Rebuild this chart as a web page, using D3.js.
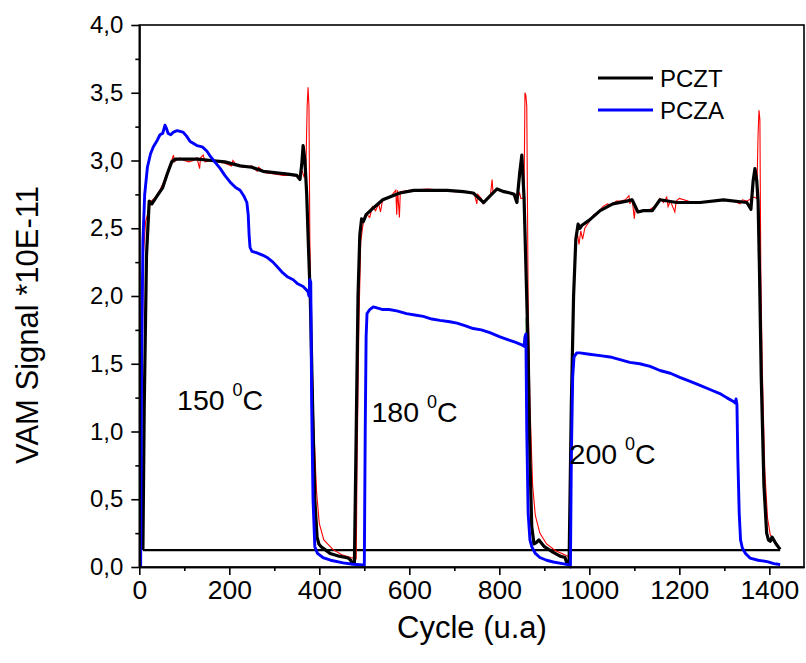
<!DOCTYPE html>
<html><head><meta charset="utf-8">
<script src="https://cdn.jsdelivr.net/npm/d3@7"></script>
<style>html,body{margin:0;padding:0;background:#fff}svg{display:block}</style>
</head><body>
<svg id="chart" width="806" height="663"></svg>
<script>
// ---- data ----
const yTicks = [0, 0.5, 1, 1.5, 2, 2.5, 3, 3.5, 4];
const yMinorTicks = [0.25, 0.75, 1.25, 1.75, 2.25, 2.75, 3.25, 3.75];
const xTicks = [0, 200, 400, 600, 800, 1000, 1200, 1400];
const xMinorTicks = [100, 300, 500, 700, 900, 1100, 1300];
const seriesNames = ["PCZT", "PCZA"];
const tempLabels = [
  {cycle: 84, value: 1.16, text: "150", unit: "C"},
  {cycle: 516, value: 1.07, text: "180", unit: "C"},
  {cycle: 956, value: 0.76, text: "200", unit: "C"}
];

// PCZT smoothed (black)
const pczt = [[8,0.125],[11,1.2],[16,2.3],[22,2.7],[28,2.68],[40,2.74],[52,2.8],[62,2.9],[72,2.99],[80,3.01],[100,3.01],[130,3.01],[160,3.0],[190,2.99],[224,2.96],[250,2.95],[275,2.92],[300,2.91],[330,2.9],[350,2.89],[357,2.86],[361,2.97],[364,3.11],[368,3.0],[372,2.75],[376,2.35],[380,1.98],[385,1.2],[390,0.5],[395,0.22],[399,0.17],[404,0.15],[412,0.13],[424,0.10],[444,0.08],[464,0.066],[470,0.05],[472,0.03],[478,0.03],[482,1.0],[486,2.0],[490,2.45],[494,2.57],[498,2.55],[504,2.6],[520,2.65],[541,2.71],[579,2.76],[610,2.78],[639,2.78],[684,2.78],[720,2.77],[742,2.76],[755,2.72],[765,2.69],[780,2.74],[795,2.79],[810,2.77],[824,2.76],[833,2.75],[839,2.69],[845,2.9],[850,3.04],[855,2.72],[860,2.1],[864,1.6],[868,0.8],[872,0.3],[877,0.17],[882,0.18],[888,0.2],[900,0.15],[919,0.11],[935,0.08],[946,0.07],[950,0.03],[955,0.03],[960,1.2],[965,2.0],[970,2.42],[975,2.53],[979,2.5],[983,2.52],[1000,2.56],[1024,2.63],[1052,2.68],[1083,2.70],[1095,2.71],[1108,2.62],[1120,2.63],[1140,2.63],[1157,2.71],[1194,2.69],[1246,2.69],[1298,2.71],[1350,2.69],[1359,2.64],[1364,2.85],[1368,2.94],[1372,2.85],[1375,2.7],[1378,2.2],[1382,1.4],[1388,0.6],[1394,0.25],[1398,0.2],[1402,0.19],[1406,0.22],[1415,0.17],[1424,0.13]];

// PCZT raw (red)
const pcztRaw = [[2,0.0],[5,1.1],[9,2.3],[14,2.55],[20,2.62],[26,2.7],[34,2.72],[44,2.77],[54,2.84],[64,2.93],[72,3.0],[76,3.04],[78,2.99],[90,3.02],[100,3.0],[110,2.99],[120,3.0],[128,3.02],[134,2.94],[136,3.02],[142,3.04],[146,2.99],[160,3.0],[175,2.99],[190,2.98],[205,2.96],[208,3.0],[215,2.97],[230,2.95],[250,2.96],[262,2.92],[265,2.95],[280,2.91],[300,2.9],[320,2.89],[340,2.89],[356,2.88],[362,2.92],[366,2.88],[370,2.9],[373,3.4],[375,3.54],[377,3.4],[379,2.4],[382,1.8],[388,1.0],[394,0.55],[400,0.32],[410,0.2],[430,0.13],[450,0.09],[470,0.07],[482,0.06],[484,0.8],[488,1.8],[492,2.4],[496,2.5],[500,2.58],[506,2.6],[512,2.58],[518,2.66],[525,2.63],[532,2.68],[536,2.62],[540,2.7],[560,2.74],[570,2.78],[572,2.6],[574,2.78],[578,2.58],[580,2.77],[600,2.78],[640,2.79],[680,2.78],[700,2.77],[720,2.77],[735,2.76],[745,2.75],[750,2.68],[752,2.75],[760,2.72],[764,2.68],[772,2.72],[780,2.74],[784,2.86],[786,2.76],[795,2.79],[810,2.77],[825,2.76],[835,2.74],[840,2.72],[845,2.76],[848,2.72],[852,2.72],[855,2.76],[857,3.5],[859,3.48],[861,3.4],[864,2.0],[868,1.2],[874,0.6],[880,0.38],[890,0.25],[905,0.17],[925,0.12],[945,0.09],[958,0.07],[961,1.0],[965,2.0],[969,2.4],[974,2.45],[977,2.38],[981,2.48],[985,2.42],[990,2.5],[1000,2.55],[1010,2.6],[1020,2.62],[1030,2.66],[1040,2.68],[1050,2.67],[1060,2.7],[1070,2.7],[1080,2.71],[1088,2.74],[1090,2.68],[1095,2.72],[1100,2.57],[1102,2.65],[1110,2.62],[1130,2.63],[1145,2.66],[1157,2.72],[1165,2.69],[1172,2.73],[1175,2.66],[1180,2.70],[1190,2.62],[1193,2.7],[1200,2.72],[1230,2.69],[1250,2.69],[1270,2.7],[1300,2.71],[1320,2.7],[1335,2.68],[1340,2.71],[1350,2.7],[1360,2.72],[1366,2.73],[1372,2.72],[1375,3.2],[1377,3.37],[1379,3.3],[1381,2.2],[1384,1.5],[1390,0.7],[1396,0.36],[1402,0.24],[1410,0.19],[1420,0.15]];

// PCZA (blue)
const pcza = [[3,0.0],[5,1.5],[8,2.4],[12,2.75],[18,2.95],[25,3.05],[31,3.1],[40,3.15],[46,3.19],[52,3.2],[57,3.26],[60,3.24],[64,3.2],[70,3.19],[76,3.21],[84,3.22],[97,3.21],[105,3.18],[113,3.14],[128,3.11],[140,3.1],[150,3.07],[158,3.03],[170,2.98],[180,2.94],[190,2.89],[202,2.84],[214,2.8],[224,2.78],[232,2.74],[239,2.69],[242,2.6],[244,2.45],[246,2.36],[250,2.33],[260,2.32],[275,2.3],[286,2.28],[297,2.25],[308,2.21],[319,2.17],[330,2.14],[342,2.12],[352,2.09],[364,2.07],[370,2.05],[375,2.03],[377,2.0],[379,2.12],[381,2.1],[383,1.2],[386,0.5],[390,0.15],[396,0.1],[408,0.07],[425,0.05],[453,0.03],[475,0.02],[497,0.015],[500,0.01],[502,1.0],[504,1.7],[506,1.87],[512,1.9],[520,1.92],[530,1.91],[541,1.9],[555,1.9],[572,1.89],[594,1.87],[612,1.86],[631,1.85],[650,1.83],[668,1.82],[690,1.81],[706,1.8],[725,1.78],[742,1.76],[760,1.75],[779,1.73],[800,1.7],[817,1.68],[835,1.66],[850,1.64],[855,1.63],[857,1.7],[859,1.72],[861,1.0],[864,0.4],[868,0.2],[872,0.15],[880,0.1],[890,0.07],[905,0.05],[920,0.037],[940,0.025],[957,0.015],[958,0.0],[960,0.8],[963,1.4],[966,1.55],[972,1.58],[979,1.58],[1000,1.57],[1024,1.56],[1046,1.55],[1068,1.53],[1090,1.51],[1112,1.5],[1135,1.48],[1157,1.45],[1180,1.43],[1201,1.4],[1224,1.37],[1246,1.34],[1268,1.31],[1290,1.28],[1305,1.25],[1321,1.22],[1324,1.21],[1326,1.24],[1328,1.2],[1330,0.8],[1333,0.4],[1336,0.2],[1340,0.14],[1347,0.1],[1357,0.066],[1375,0.05],[1395,0.04],[1410,0.025],[1420,0.02],[1424,0.018]];

// small green segment
const greenMark = [[860,1.73],[860,1.84]];
// closing baseline of the PCZT trace
const baseline = [[8,0.125],[1424,0.125]];

// ---- chart ----
const svg = d3.select("#chart");
const font = "'Liberation Sans', Arial, sans-serif";
const x = d3.scaleLinear().domain([0, 1477]).range([139.3, 804]);
const y = d3.scaleLinear().domain([0, 4]).range([567, 25]);
const fmt = d => d3.format(".1f")(d).replace(".", ",");

const line = d3.line().x(d => x(d[0])).y(d => y(d[1]));
const plot = svg.append("g");
plot.append("path").datum(baseline).attr("d", line).attr("fill","none").attr("stroke","#000").attr("stroke-width",2.2);
plot.append("path").datum(pcztRaw).attr("d", line).attr("fill","none").attr("stroke","#ff0000").attr("stroke-width",1.1);
plot.append("path").datum(greenMark).attr("d", line).attr("fill","none").attr("stroke","#008000").attr("stroke-width",1.5);
plot.append("path").datum(pczt).attr("d", line).attr("fill","none").attr("stroke","#000").attr("stroke-width",3.2).attr("stroke-linejoin","round");
plot.append("path").datum(pcza).attr("d", line).attr("fill","none").attr("stroke","#0000ff").attr("stroke-width",2.9).attr("stroke-linejoin","round");

// frame
svg.append("rect").attr("x", x(0)).attr("y", y(4)).attr("width", x(1477)-x(0)).attr("height", y(0)-y(4))
  .attr("fill","none").attr("stroke","#000").attr("stroke-width",1.6);

// axes
const yAxis = svg.append("g").attr("transform", `translate(${x(0)},0)`)
  .call(d3.axisLeft(y).tickValues(yTicks).tickFormat(fmt).tickSize(8).tickSizeOuter(0).tickPadding(8));
const yMinor = svg.append("g").attr("transform", `translate(${x(0)},0)`)
  .call(d3.axisLeft(y).tickValues(yMinorTicks).tickFormat("").tickSize(4).tickSizeOuter(0));
const xAxis = svg.append("g").attr("transform", `translate(0,${y(0)})`)
  .call(d3.axisBottom(x).tickValues(xTicks).tickFormat(d3.format("d")).tickSize(8).tickSizeOuter(0).tickPadding(5));
const xMinor = svg.append("g").attr("transform", `translate(0,${y(0)})`)
  .call(d3.axisBottom(x).tickValues(xMinorTicks).tickFormat("").tickSize(4).tickSizeOuter(0));
[yAxis, yMinor, xAxis, xMinor].forEach(g => {
  g.select(".domain").attr("stroke","#000").attr("stroke-width",1.6);
  g.selectAll(".tick line").attr("stroke","#000").attr("stroke-width",1.6);
  g.selectAll(".tick text").attr("fill","#000").style("font-family", font);
});
yAxis.selectAll(".tick text").style("font-size","24px");
xAxis.selectAll(".tick text").style("font-size","26.5px");

// axis titles
svg.append("text").attr("x", 472).attr("y", 638).attr("text-anchor","middle")
  .style("font-family", font).style("font-size","31px").text("Cycle (u.a)");
svg.append("text").attr("transform","translate(38,325) rotate(-90)").attr("text-anchor","middle")
  .style("font-family", font).style("font-size","31px").text("VAM Signal *10E-11");

// temperature labels
tempLabels.forEach(t => {
  const tx = svg.append("text").attr("x", x(t.cycle)).attr("y", y(t.value))
    .style("font-family", font).style("font-size","28.5px").attr("fill","#000");
  tx.append("tspan").text(t.text + " ");
  tx.append("tspan").attr("dy", -14).style("font-size","18px").text("0");
  tx.append("tspan").attr("dy", 14).text(t.unit);
});

// legend
const legend = svg.append("g");
const legendColors = ["#000", "#0000ff"];
seriesNames.forEach((n, i) => {
  const ly = 78 + i * 32;
  legend.append("line").attr("x1", 598).attr("x2", 653).attr("y1", ly).attr("y2", ly)
    .attr("stroke", legendColors[i]).attr("stroke-width", 2.8);
  legend.append("text").attr("x", 660).attr("y", ly + 8.5)
    .style("font-family", font).style("font-size","24px").text(n);
});
</script>
</body></html>
